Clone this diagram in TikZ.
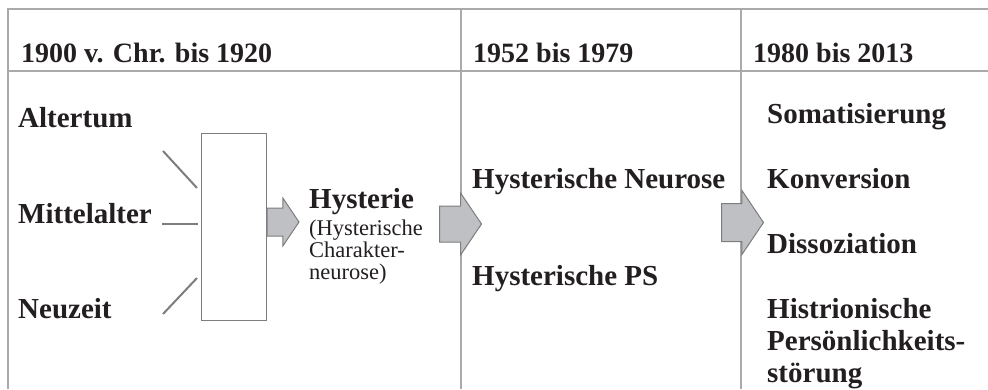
\documentclass[tikz,border=0pt]{standalone}
\usepackage{fontspec}
\setmainfont{Liberation Serif}
\usepackage{xcolor}
\usetikzlibrary{positioning,shapes.arrows}
\definecolor{rulegray}{RGB}{170,170,170}
\definecolor{strokegray}{RGB}{125,125,125}
\definecolor{fillgray}{RGB}{191,192,196}
\definecolor{ink}{RGB}{35,31,32}
\tikzset{
  lbl/.style={anchor=base west,inner sep=0pt,text=ink,font=\fontsize{29}{32}\selectfont\bfseries},
  hd/.style={lbl,font=\fontsize{28}{32}\selectfont\bfseries},
  small/.style={anchor=base west,inner sep=0pt,text=ink,font=\fontsize{22.5}{22}\selectfont},
  rl/.style={draw=rulegray,line width=1.5pt},
  ln/.style={draw=strokegray,line width=2pt},
  fat/.style={single arrow,draw=strokegray,fill=fillgray,line width=1pt,anchor=tail,
    inner xsep=0pt,single arrow tip angle=112},
}

\begin{document}
\begin{tikzpicture}[x=1pt,y=-1pt]
        \useasboundingbox (0,0) rectangle (988,389);
        % table
        \draw[rl] (8,389) -- (8,9) -- (988,9);
        \draw[rl] (8,71) -- (988,71);
        \draw[rl] (461,9) -- (461,389);
        \draw[rl] (741,9) -- (741,389);
        \node[hd] (H1) at (21,62) {1900 v. Chr. bis 1920};
        \node[hd] (H2) at (473,62) {1952 bis 1979};
        \node[hd] (H3) at (753,62) {1980 bis 2013};
        % first column
        \node[lbl] (A) at (18,127) {Altertum};
        \node[lbl] (M) at (18,223) {Mittelalter};
        \node[lbl] (N) at (18,318) {Neuzeit};
        \node[draw=strokegray,line width=1pt,rectangle,minimum width=65pt,minimum height=187pt,inner sep=0pt] (B) at (233.5,226.5) {};
        \coordinate (A1) at (163,151);
        \coordinate (A2) at (197,188);
        \coordinate (M1) at (162,224);
        \coordinate (M2) at (198,224);
        \coordinate (N1) at (163,314);
        \coordinate (N2) at (197,278);
        \draw[ln] (A1) -- (A2);
        \draw[ln] (M1) -- (M2);
        \draw[ln] (N1) -- (N2);
        \node[fat,minimum height=32pt,inner ysep=13.5pt,single arrow head extend=10pt] (P1) at (B.east |- 0,222) {};
        \node[lbl] (Hy) at (309,208) {Hysterie};
        \node[small] (Hc1) at (309,235) {(Hysterische};
        \node[small] (Hc2) at (309,257) {Charakter-};
        \node[small] (Hc3) at (309,279) {neurose)};
        % second column
        \node[fat,minimum height=42pt,inner ysep=17.5pt,single arrow head extend=13pt] (P2) at (439,224) {};
        \node[lbl] (HN) at (472,188) {Hysterische Neurose};
        \node[lbl] (HP) at (472,285) {Hysterische PS};
        % third column
        \node[fat,minimum height=42pt,inner ysep=18.5pt,single arrow head extend=13pt] (P3) at (721,222.5) {};
        \node[lbl] (S) at (767,123) {Somatisierung};
        \node[lbl] (K) at (767,188) {Konversion};
        \node[lbl] (D) at (767,253) {Dissoziation};
        \node[lbl] (Hi1) at (767,318) {Histrionische};
        \node[lbl] (Hi2) at (767,350) {Pers\"onlichkeits-};
        \node[lbl] (Hi3) at (767,382) {st\"orung};
\end{tikzpicture}
\end{document}
